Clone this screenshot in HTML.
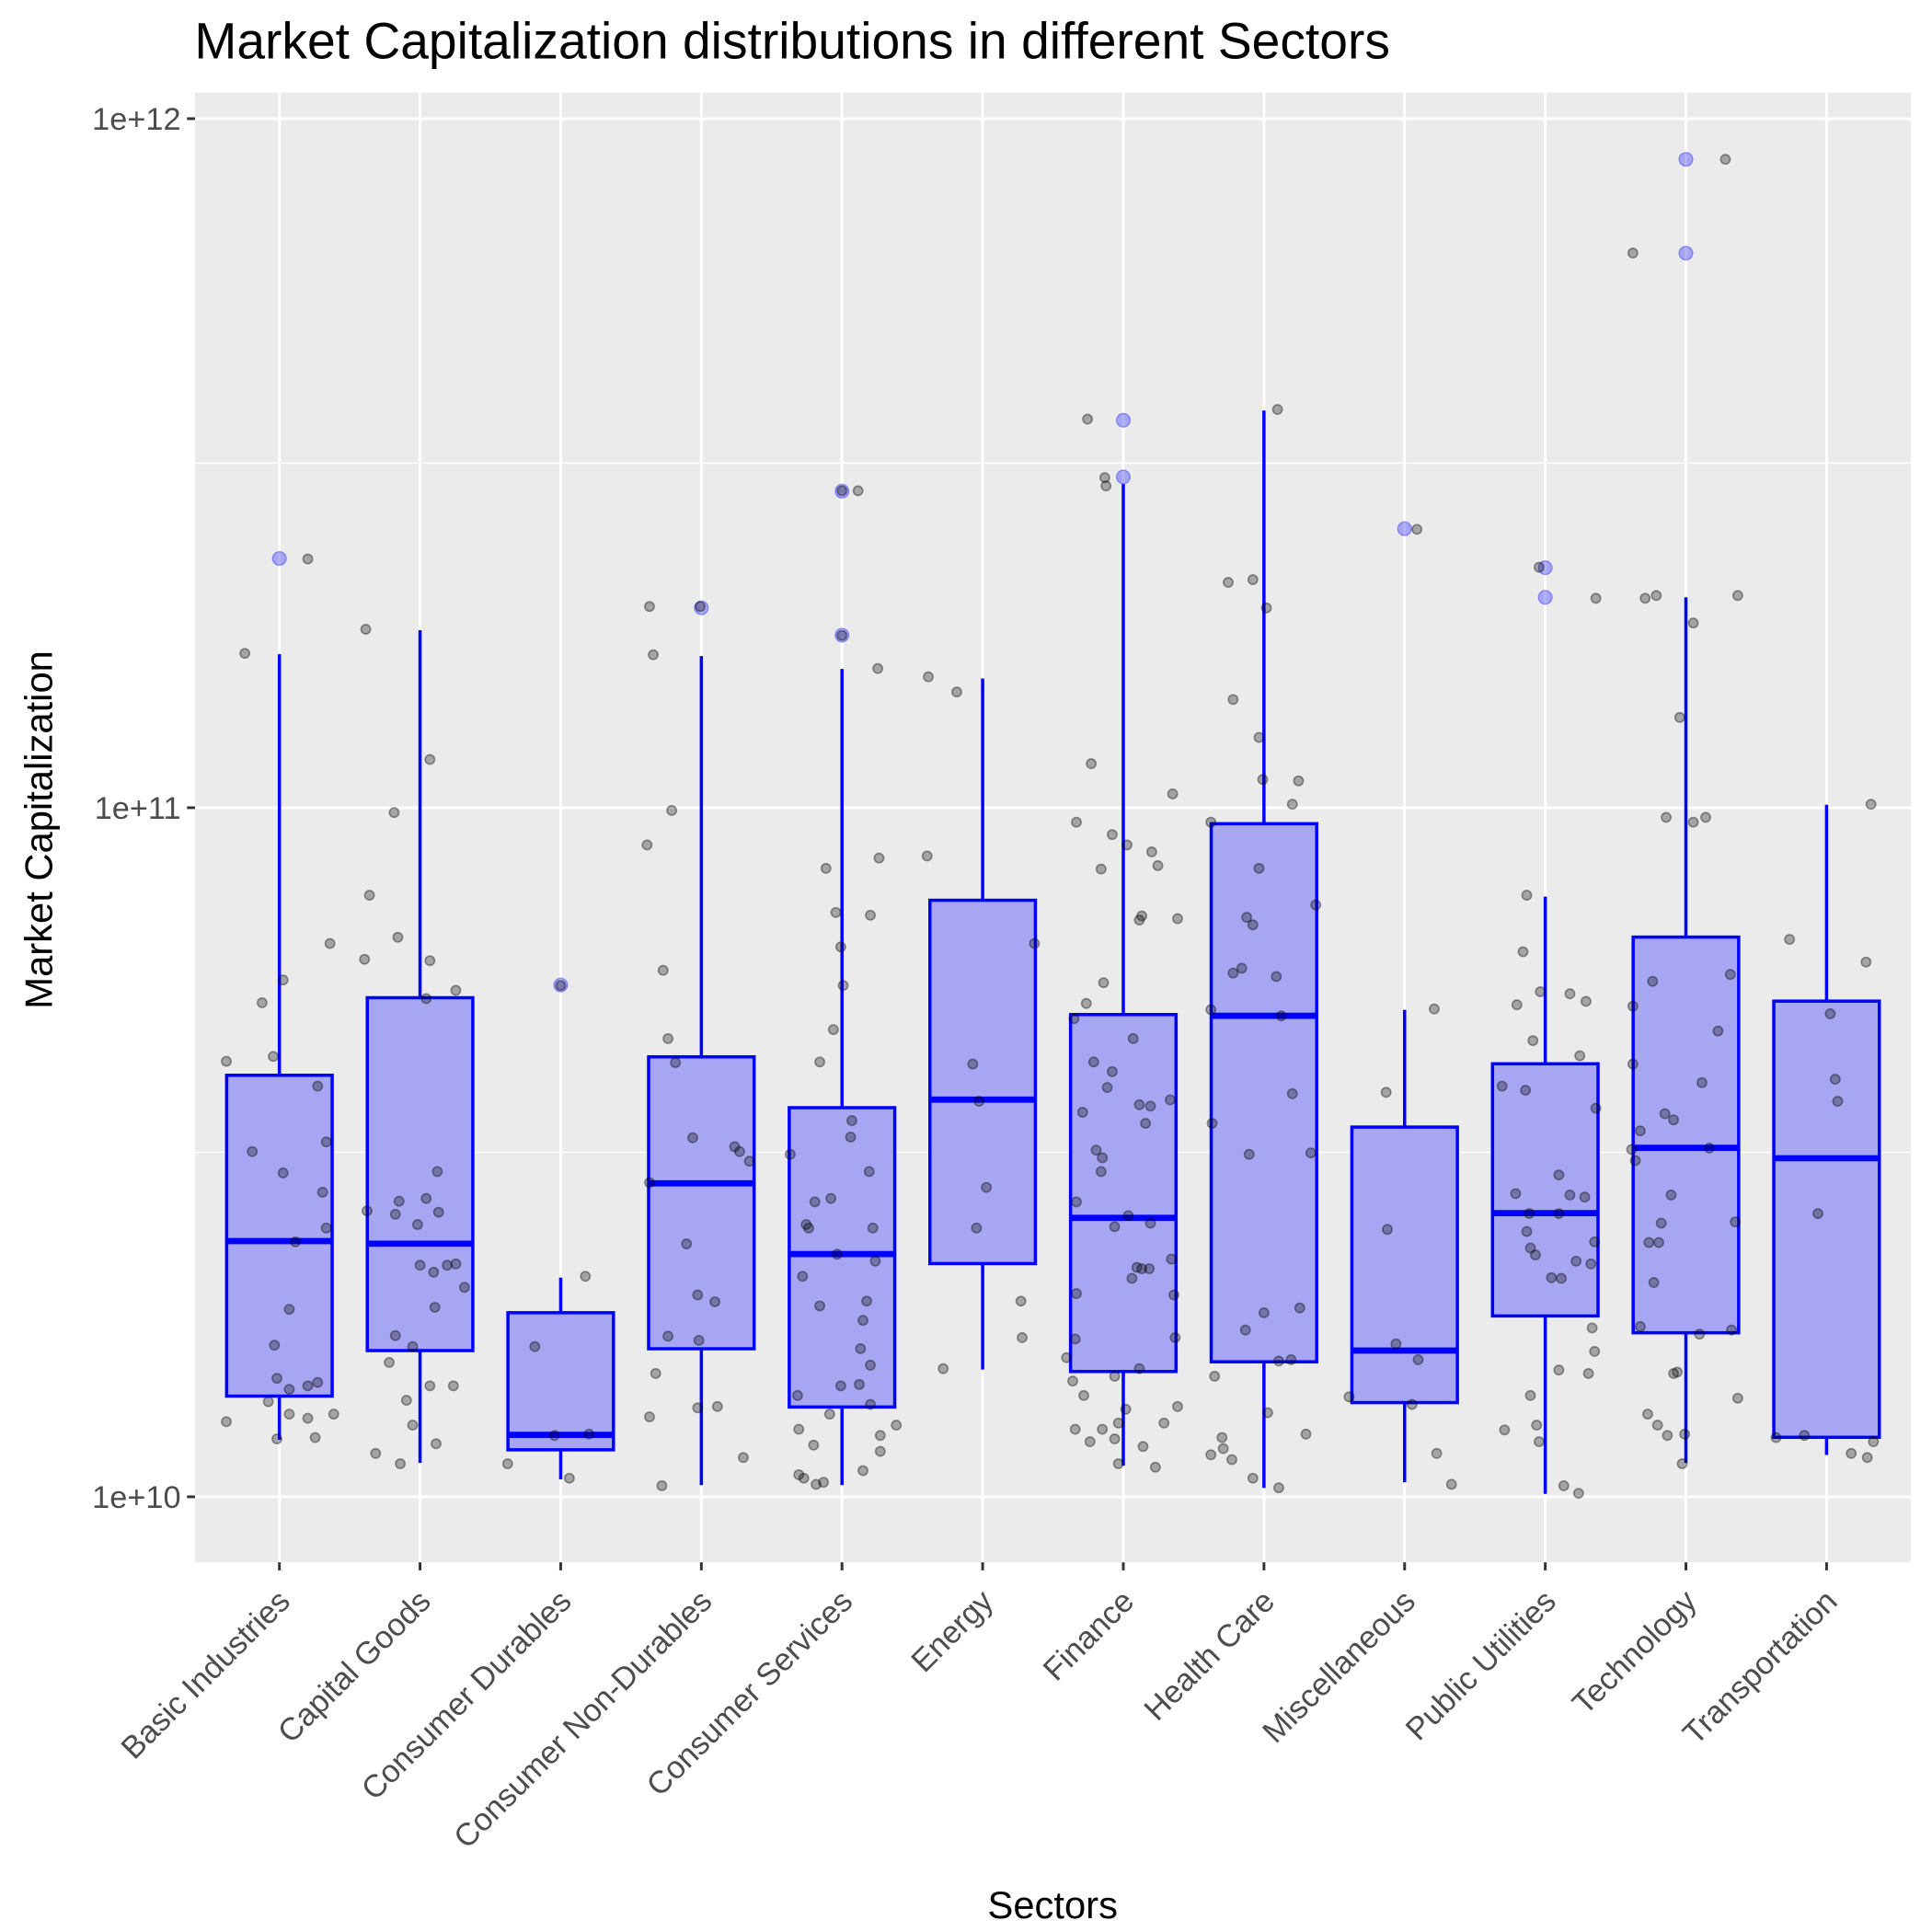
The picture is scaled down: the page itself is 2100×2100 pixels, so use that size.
<!DOCTYPE html>
<html><head><meta charset="utf-8"><style>
html,body{margin:0;padding:0;background:#fff}
svg{display:block;font-family:"Liberation Sans",Arial,sans-serif}
</style></head><body>
<svg id="chart" width="2100" height="2100" viewBox="0 0 1560 1560" xmlns="http://www.w3.org/2000/svg">
<rect width="1560" height="1560" fill="#fff"/>
<text x="157" y="47" font-size="41" fill="#000">Market Capitalization distributions in different Sectors</text>
<rect x="157.5" y="74.7" width="1385.5" height="1186.8" fill="#ebebeb"/>
<g id="grid"></g>
<g id="boxes"></g>
<g id="points"></g>
<g id="axes"></g>
<text transform="translate(42,670) rotate(-90)" text-anchor="middle" font-size="31" fill="#000">Market Capitalization</text>
<text x="850" y="1549" text-anchor="middle" font-size="31" fill="#000">Sectors</text>
</svg>
<script>
const categories=["Basic Industries","Capital Goods","Consumer Durables","Consumer Non-Durables","Consumer Services","Energy","Finance","Health Care","Miscellaneous","Public Utilities","Technology","Transportation"];
const whiskerLow=[1.21e10,1.12e10,1.06e10,1.04e10,1.04e10,1.53e10,1.11e10,1.03e10,1.05e10,1.01e10,1.12e10,1.15e10];
const q1=[1.40e10,1.63e10,1.17e10,1.64e10,1.35e10,2.18e10,1.52e10,1.57e10,1.37e10,1.83e10,1.73e10,1.22e10];
const medians=[2.35e10,2.33e10,1.23e10,2.85e10,2.25e10,3.77e10,2.54e10,4.99e10,1.63e10,2.58e10,3.21e10,3.10e10];
const q3=[4.09e10,5.30e10,1.85e10,4.35e10,3.67e10,7.34e10,5.01e10,9.48e10,3.44e10,4.25e10,6.49e10,5.24e10];
const whiskerHigh=[1.67e11,1.81e11,2.08e10,1.66e11,1.59e11,1.54e11,2.95e11,3.77e11,5.09e10,7.43e10,2.02e11,1.01e11];
const outlierValues=[[2.30e11],[],[5.53e10],[1.95e11],[2.88e11,1.78e11],[],[3.65e11,3.02e11],[],[2.54e11],[2.23e11,2.02e11],[8.73e11,6.38e11],[]];
const yTicks=[1e10,1e11,1e12];
const yTickLabels=["1e+10","1e+11","1e+12"];
// jittered observations: [sector index, jitter offset (1/114 of band), log10 value]
const pts=[
[0,-43,10.109],[0,-43,10.632],[0,-28,11.224],[0,-14,10.717],[0,-22,10.501],[0,3,10.75],[0,-5,10.639],[0,3,10.47],[0,13,10.37],[0,31,10.596],[0,38,10.515],[0,35,10.442],[0,38,10.39],[0,8,10.272],[0,-4,10.22],[0,-2,10.172],[0,-9,10.138],[0,8,10.156],[0,23,10.161],[0,31,10.166],[0,44,10.12],[0,8,10.12],[0,23,10.114],[0,-2,10.084],[0,29,10.086],[0,23,11.361],[0,41,10.803],
[1,-44,11.259],[1,-41,10.873],[1,-45,10.78],[1,-18,10.812],[1,-21,10.993],[1,8,11.07],[1,8,10.778],[1,5,10.723],[1,29,10.735],[1,-43,10.415],[1,-20,10.41],[1,-17,10.429],[1,5,10.433],[1,14,10.472],[1,15,10.413],[1,-2,10.395],[1,0,10.336],[1,11,10.326],[1,22,10.336],[1,29,10.338],[1,36,10.304],[1,12,10.275],[1,-20,10.234],[1,-6,10.218],[1,-25,10.195],[1,8,10.161],[1,27,10.161],[1,-11,10.14],[1,-6,10.104],[1,13,10.077],[1,-36,10.063],[1,-16,10.048],
[2,-21,10.218],[2,20,10.32],[2,-5,10.089],[2,23,10.091],[2,-43,10.048],[2,7,10.027],[2,0,10.742],
[3,-44,10.946],[3,-39,11.222],[3,-42,11.292],[3,-1,11.292],[3,-24,10.996],[3,-31,10.764],[3,-27,10.665],[3,-21,10.63],[3,-7,10.521],[3,-42,10.456],[3,27,10.508],[3,31,10.501],[3,39,10.487],[3,-12,10.367],[3,-3,10.293],[3,11,10.283],[3,-27,10.233],[3,-2,10.227],[3,-37,10.179],[3,-3,10.129],[3,13,10.131],[3,-42,10.116],[3,34,10.057],[3,-32,10.016],
[4,0,11.46],[4,13,11.46],[4,0,11.25],[4,29,11.202],[4,-13,10.912],[4,-5,10.848],[4,30,10.927],[4,23,10.844],[4,-1,10.798],[4,1,10.742],[4,-7,10.678],[4,-18,10.631],[4,8,10.546],[4,7,10.522],[4,22,10.472],[4,-42,10.497],[4,-22,10.428],[4,-29,10.395],[4,-27,10.39],[4,-9,10.433],[4,25,10.39],[4,-4,10.352],[4,27,10.342],[4,-32,10.32],[4,-18,10.277],[4,20,10.284],[4,17,10.256],[4,15,10.215],[4,23,10.191],[4,-1,10.161],[4,14,10.163],[4,-36,10.147],[4,23,10.134],[4,-10,10.12],[4,44,10.104],[4,-35,10.098],[4,31,10.089],[4,-23,10.075],[4,31,10.066],[4,17,10.038],[4,-35,10.032],[4,-31,10.027],[4,-15,10.021],[4,-21,10.018],
[5,-44,11.19],[5,-21,11.168],[5,-45,10.93],[5,42,10.803],[5,-8,10.628],[5,-3,10.574],[5,3,10.449],[5,-5,10.39],[5,31,10.284],[5,32,10.231],[5,-32,10.186],
[6,-29,11.564],[6,-15,11.479],[6,-14,11.467],[6,-26,11.064],[6,-38,10.979],[6,-9,10.961],[6,3,10.946],[6,23,10.936],[6,28,10.916],[6,-18,10.911],[6,15,10.843],[6,13,10.837],[6,44,10.839],[6,40,11.02],[6,-16,10.746],[6,-30,10.716],[6,-40,10.694],[6,8,10.665],[6,-24,10.631],[6,-9,10.617],[6,-13,10.594],[6,-33,10.558],[6,38,10.576],[6,13,10.569],[6,22,10.567],[6,-22,10.503],[6,18,10.542],[6,-17,10.492],[6,-18,10.472],[6,-38,10.428],[6,-7,10.392],[6,22,10.397],[6,4,10.408],[6,39,10.345],[6,11,10.333],[6,15,10.331],[6,21,10.331],[6,7,10.317],[6,-38,10.295],[6,41,10.293],[6,-39,10.229],[6,42,10.231],[6,-46,10.202],[6,13,10.186],[6,-41,10.168],[6,-32,10.147],[6,-7,10.175],[6,2,10.127],[6,44,10.131],[6,-4,10.107],[6,33,10.107],[6,-39,10.098],[6,-17,10.098],[6,-27,10.08],[6,-7,10.084],[6,16,10.073],[6,-4,10.048],[6,26,10.043],
[7,11,11.578],[7,-29,11.327],[7,-9,11.331],[7,2,11.29],[7,-25,11.157],[7,-4,11.102],[7,-1,11.041],[7,28,11.039],[7,23,11.005],[7,-43,10.979],[7,-4,10.912],[7,42,10.859],[7,-14,10.841],[7,-9,10.83],[7,-18,10.767],[7,-25,10.76],[7,10,10.755],[7,-43,10.707],[7,14,10.698],[7,23,10.585],[7,-42,10.542],[7,-12,10.497],[7,38,10.499],[7,29,10.274],[7,0,10.267],[7,-15,10.242],[7,12,10.197],[7,22,10.199],[7,-40,10.175],[7,3,10.122],[7,34,10.091],[7,-34,10.086],[7,-33,10.07],[7,-43,10.061],[7,-26,10.054],[7,-9,10.027],[7,12,10.013],
[8,10,11.404],[8,-15,10.587],[8,24,10.708],[8,-14,10.388],[8,-7,10.222],[8,11,10.199],[8,-45,10.145],[8,6,10.134],[8,26,10.063],[8,38,10.018],
[9,-5,11.349],[9,41,11.304],[9,-15,10.873],[9,-18,10.791],[9,-23,10.714],[9,-4,10.733],[9,20,10.73],[9,33,10.719],[9,-10,10.662],[9,28,10.64],[9,-35,10.596],[9,-16,10.59],[9,41,10.564],[9,11,10.467],[9,-24,10.44],[9,-13,10.411],[9,20,10.438],[9,32,10.435],[9,-15,10.385],[9,-12,10.361],[9,-8,10.351],[9,11,10.411],[9,40,10.37],[9,5,10.318],[9,13,10.317],[9,25,10.342],[9,37,10.338],[9,38,10.245],[9,40,10.211],[9,11,10.184],[9,35,10.179],[9,-12,10.147],[9,-7,10.104],[9,-33,10.097],[9,-5,10.08],[9,15,10.016],[9,27,10.005],
[10,32,11.941],[10,-43,11.805],[10,-33,11.304],[10,-24,11.308],[10,42,11.308],[10,6,11.268],[10,-5,11.131],[10,-16,10.986],[10,6,10.979],[10,16,10.986],[10,-27,10.748],[10,-43,10.712],[10,36,10.758],[10,26,10.676],[10,-43,10.628],[10,13,10.601],[10,-17,10.556],[10,-10,10.547],[10,-37,10.531],[10,-44,10.504],[10,19,10.506],[10,-41,10.488],[10,-12,10.438],[10,-20,10.397],[10,40,10.399],[10,-30,10.369],[10,-22,10.369],[10,-26,10.311],[10,-37,10.247],[10,11,10.236],[10,37,10.242],[10,-10,10.179],[10,-7,10.181],[10,42,10.143],[10,-31,10.12],[10,-23,10.104],[10,-15,10.089],[10,-1,10.091],[10,-3,10.048],
[11,-30,10.809],[11,36,11.005],[11,32,10.776],[11,3,10.701],[11,7,10.606],[11,9,10.574],[11,-7,10.411],[11,-18,10.089],[11,-41,10.086],[11,38,10.08],[11,20,10.063],[11,33,10.057]
];
const NS="http://www.w3.org/2000/svg";
const px0=157.5,px1=1543,pyT=74.7,pyB=1261.5;
function xS(i){return 225.6+113.57*i;}
function yS(v){return 1208.6-556.4*Math.log10(v/1e10);}
function mk(tag,attrs,parent){const e=document.createElementNS(NS,tag);for(const k in attrs)e.setAttribute(k,attrs[k]);parent.appendChild(e);return e;}
const grid=document.getElementById('grid'),boxes=document.getElementById('boxes'),pg=document.getElementById('points'),axes=document.getElementById('axes');
for(let k=0;k<yTicks.length+1;k++){const v=Math.sqrt(10)*yTicks[0]*Math.pow(10,k-1);const y=yS(v);if(y>pyT&&y<pyB){const l=mk('line',{x1:px0,x2:px1,y1:y,y2:y,stroke:'#fff','stroke-width':1},grid);

}}
yTicks.forEach((v,i)=>{const y=yS(v);const l=mk('line',{x1:px0,x2:px1,y1:y,y2:y,stroke:'#fff','stroke-width':2.2},grid);


const t=mk('line',{x1:151,x2:157.5,y1:y,y2:y,stroke:'#333','stroke-width':2.2},axes);


const tx=mk('text',{x:146,y:y+9,'text-anchor':'end','font-size':25.5,fill:'#4d4d4d'},axes);tx.textContent=yTickLabels[i];

});
categories.forEach((c,i)=>{const x=xS(i);const l=mk('line',{x1:x,x2:x,y1:pyT,y2:pyB,stroke:'#fff','stroke-width':2.2},grid);


const t=mk('line',{x1:x,x2:x,y1:pyB,y2:pyB+6.5,stroke:'#333','stroke-width':2.2},axes);


const tx=mk('text',{transform:`translate(${x+10},${pyB+33}) rotate(-45)`,'text-anchor':'end','font-size':25.5,fill:'#4d4d4d'},axes);tx.textContent=c;


const g=mk('g',{},boxes);


const hw=42.6;
mk('line',{x1:x,x2:x,y1:yS(whiskerHigh[i]),y2:yS(q3[i]),stroke:'#0000ff','stroke-width':2.6},g);
mk('line',{x1:x,x2:x,y1:yS(q1[i]),y2:yS(whiskerLow[i]),stroke:'#0000ff','stroke-width':2.6},g);
mk('rect',{x:x-hw,y:yS(q3[i]),width:2*hw,height:yS(q1[i])-yS(q3[i]),fill:'#a6a6f2',stroke:'#0000ff','stroke-width':2.6},g);
mk('line',{x1:x-hw,x2:x+hw,y1:yS(medians[i]),y2:yS(medians[i]),stroke:'#0000ff','stroke-width':5},g);
outlierValues[i].forEach(v=>{const o=mk('circle',{cx:x,cy:yS(v),r:5.5,fill:'rgba(0,0,255,0.3)',stroke:'rgba(0,0,255,0.35)','stroke-width':1},g);

});
});
pts.forEach(p=>{const c=mk('circle',{cx:xS(p[0]+p[1]/114),cy:yS(Math.pow(10,p[2])),r:3.8,fill:'rgba(0,0,0,0.3)',stroke:'rgba(0,0,0,0.4)','stroke-width':1.2},pg);

});
</script>
</body></html>
